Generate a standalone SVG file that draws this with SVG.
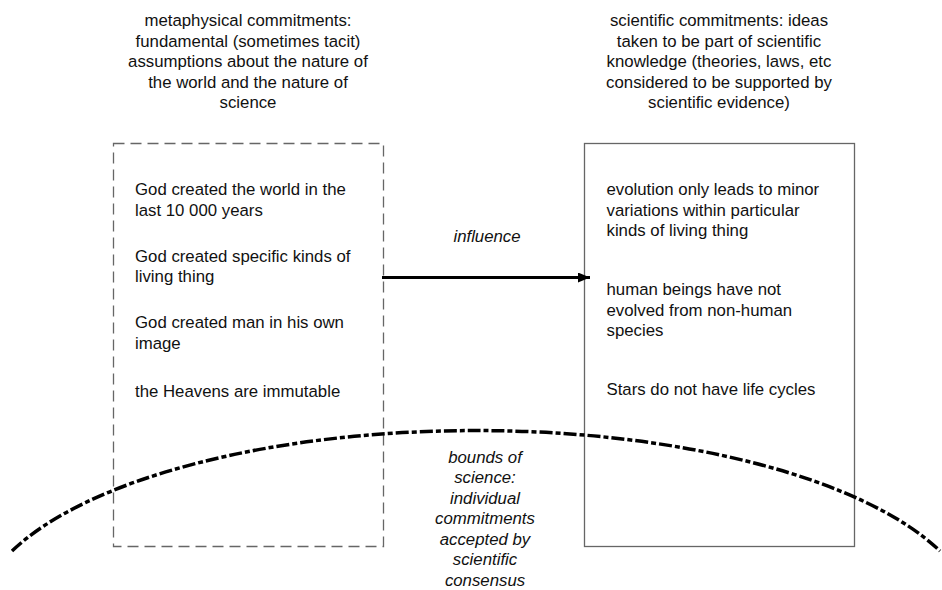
<svg xmlns="http://www.w3.org/2000/svg" width="942" height="590" viewBox="0 0 942 590">
<style>
text{font-family:"Liberation Sans",Arial,Helvetica,sans-serif;font-size:16.8px;fill:#111}
.c{text-anchor:middle}
.i{font-style:italic}
.box{fill:none;stroke:#666;stroke-width:1.3}
.dash{stroke-dasharray:11 6}
</style>
<defs>
<marker id="ah" markerWidth="12" markerHeight="10" refX="12" refY="5" orient="auto" markerUnits="userSpaceOnUse">
<path d="M0,0 L12,5 L0,10 Z" fill="#000"/>
</marker>
</defs>
<rect width="942" height="590" fill="#fff"/>
<g id="header-left">
<text class="c" x="248" y="26">metaphysical commitments:</text>
<text class="c" x="248" y="46.5">fundamental (sometimes tacit)</text>
<text class="c" x="248" y="67">assumptions about the nature of</text>
<text class="c" x="248" y="87.5">the world and the nature of</text>
<text class="c" x="248" y="108">science</text>
</g>
<g id="header-right">
<text class="c" x="719" y="26">scientific commitments: ideas</text>
<text class="c" x="719" y="46.5">taken to be part of scientific</text>
<text class="c" x="719" y="67">knowledge (theories, laws, etc</text>
<text class="c" x="719" y="87.5">considered to be supported by</text>
<text class="c" x="719" y="108">scientific evidence)</text>
</g>
<g id="metaphysical">
<rect class="box dash" x="113.5" y="143.5" width="270" height="403"/>
<text x="135" y="195">God created the world in the</text>
<text x="135" y="215.5">last 10 000 years</text>
<text x="135" y="261.5">God created specific kinds of</text>
<text x="135" y="282">living thing</text>
<text x="135" y="328">God created man in his own</text>
<text x="135" y="348.5">image</text>
<text x="135" y="397">the Heavens are immutable</text>
</g>
<g id="scientific">
<rect class="box" x="584.5" y="143.5" width="270" height="403"/>
<text x="606.5" y="195">evolution only leads to minor</text>
<text x="606.5" y="215.5">variations within particular</text>
<text x="606.5" y="236">kinds of living thing</text>
<text x="606.5" y="295">human beings have not</text>
<text x="606.5" y="315.5">evolved from non-human</text>
<text x="606.5" y="336">species</text>
<text x="606.5" y="395">Stars do not have life cycles</text>
</g>
<g id="connectors">
<line x1="382" y1="277.5" x2="590" y2="277.5" stroke="#000" stroke-width="3" marker-end="url(#ah)"/>
<text class="c i" x="487" y="242">influence</text>
</g>
<g id="bounds">
<path d="M12,551 A500,192 0 0 1 940,551" fill="none" stroke="#000" stroke-width="3.5" stroke-dasharray="13 3 5 3"/>
<text class="c i" x="485" y="462.5">bounds of</text>
<text class="c i" x="485" y="483">science:</text>
<text class="c i" x="485" y="503.5">individual</text>
<text class="c i" x="485" y="524">commitments</text>
<text class="c i" x="485" y="544.5">accepted by</text>
<text class="c i" x="485" y="565">scientific</text>
<text class="c i" x="485" y="585.5">consensus</text>
</g>
</svg>
